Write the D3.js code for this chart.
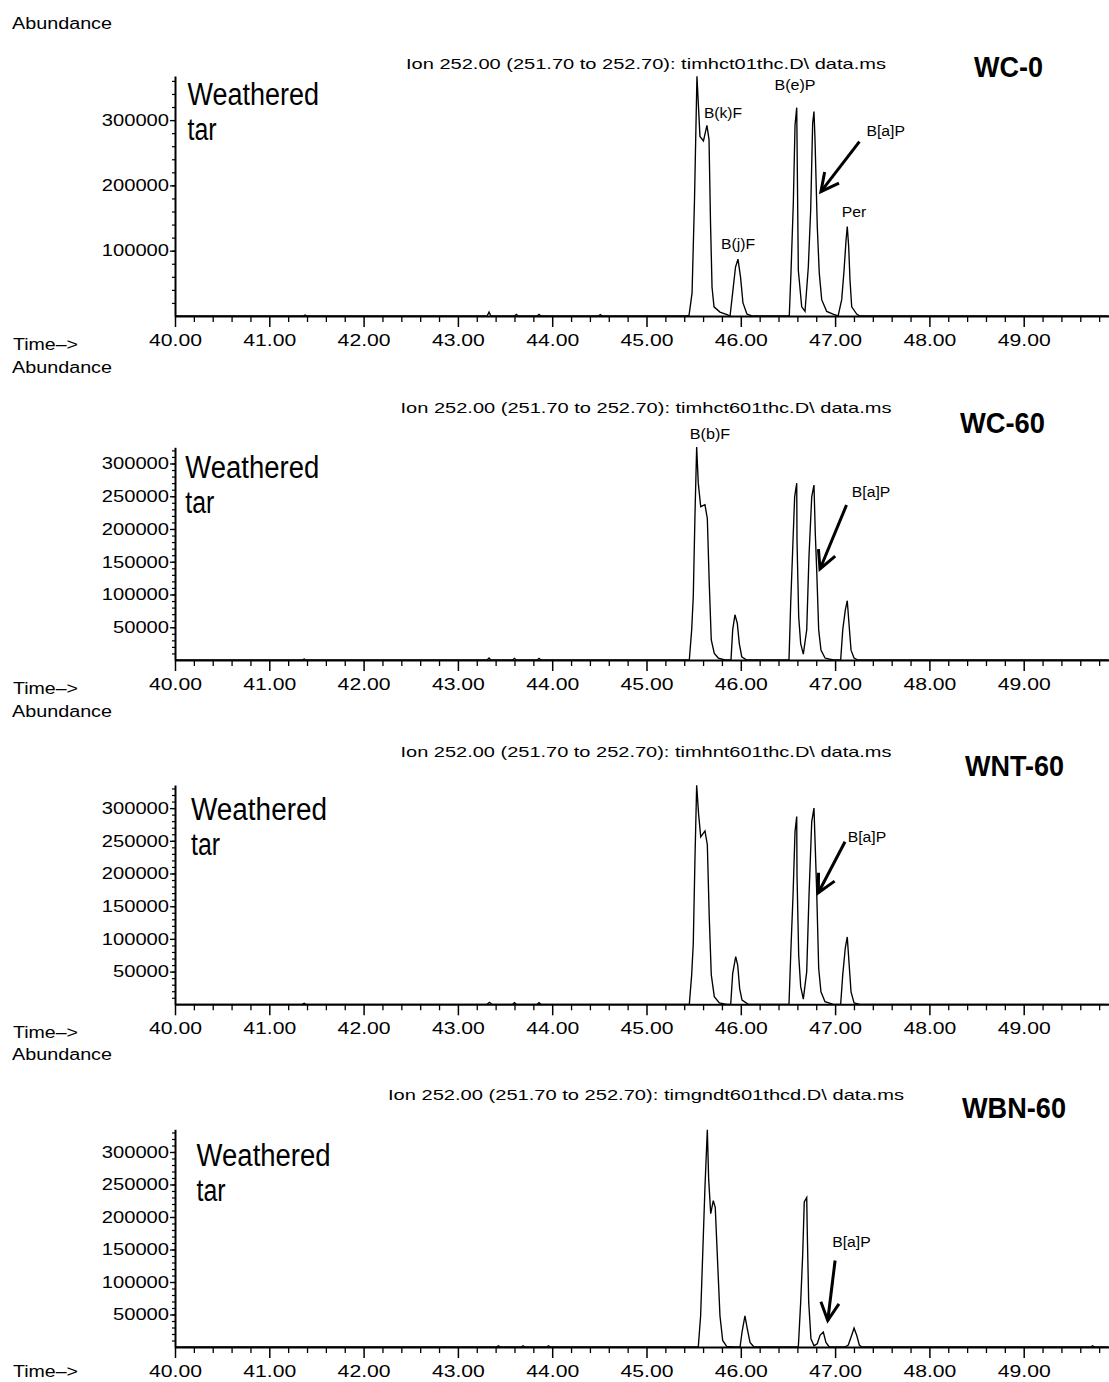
<!DOCTYPE html>
<html>
<head>
<meta charset="utf-8">
<script src="https://cdn.jsdelivr.net/npm/d3@7"></script>
<style>
  html, body { margin: 0; padding: 0; background: #fff; }
  svg { display: block; }
</style>
</head>
<body>
<svg id="chart" width="1109" height="1382"></svg>
<script>
// ---------------- DATA ----------------
const sampleNames = ["WC-0", "WC-60", "WNT-60", "WBN-60"];
const dataFiles = ["timhct01thc.D\\ data.ms", "timhct601thc.D\\ data.ms", "timhnt601thc.D\\ data.ms", "timgndt601thcd.D\\ data.ms"];
const ionLabel = "Ion 252.00 (251.70 to 252.70): ";
const xTickValues = [40, 41, 42, 43, 44, 45, 46, 47, 48, 49];
const xTickLabels = ["40.00", "41.00", "42.00", "43.00", "44.00", "45.00", "46.00", "47.00", "48.00", "49.00"];
const yTicksWC0 = [100000, 200000, 300000];
const yTickLabelsWC0 = ["100000", "200000", "300000"];
const yTicks60 = [50000, 100000, 150000, 200000, 250000, 300000];
const yTickLabels60 = ["50000", "100000", "150000", "200000", "250000", "300000"];

// chromatogram traces: [retention time (min), abundance]
const wc0Trace = [
  [40.00,0],[41.36,0],[41.38,1500],[41.40,0],
  [43.31,0],[43.33,6000],[43.35,0],
  [43.60,0],[43.62,2500],[43.64,0],
  [43.84,0],[43.86,2500],[43.88,0],
  [44.49,0],[44.51,2000],[44.53,0],
  [45.419,0],[45.451,1000],[45.483,35000],[45.509,178000],[45.535,367000],[45.567,275000],[45.604,268000],[45.641,292000],[45.663,270000],[45.679,142000],[45.695,44000],[45.716,14000],[45.779,6000],[45.854,2000],[45.886,0],
  [45.917,40000],[45.944,75000],[45.970,87000],[45.997,60000],[46.023,20000],[46.065,3000],[46.118,0],
  [46.514,0],[46.532,66000],[46.557,173000],[46.575,292000],[46.593,319000],[46.599,228000],[46.610,70000],[46.646,14000],[46.681,7000],
  [46.716,75000],[46.741,162000],[46.762,295000],[46.776,313000],[46.787,270000],[46.811,137000],[46.832,66000],[46.858,25000],[46.911,7000],[46.978,3000],[47.032,0],
  [47.070,25000],[47.095,70000],[47.116,116000],[47.129,137000],[47.144,106000],[47.158,55000],[47.176,14000],[47.229,3000],[47.264,0],
  [49.90,0]
];
const wc60Trace = [
  [40.00,0],[41.35,0],[41.37,1500],[41.39,0],
  [43.31,0],[43.33,3000],[43.35,0],
  [43.58,0],[43.60,2500],[43.62,0],
  [43.84,0],[43.86,2500],[43.88,0],
  [45.454,0],[45.479,46000],[45.496,97000],[45.514,221000],[45.532,325000],[45.549,270000],[45.575,234000],[45.620,237000],[45.645,216000],[45.666,115000],[45.687,30500],[45.719,10000],[45.762,3000],[45.833,0],
  [45.896,0],[45.914,46000],[45.938,69000],[45.963,56000],[45.984,25000],[46.010,5000],[46.063,0],
  [46.511,0],[46.529,86000],[46.550,168000],[46.571,249000],[46.593,270000],[46.596,183000],[46.614,66000],[46.635,25000],[46.663,9000],
  [46.699,46000],[46.723,158000],[46.752,249000],[46.776,267000],[46.790,193000],[46.805,137000],[46.826,46000],[46.850,15000],[46.893,3000],[46.981,0],
  [47.059,0],[47.081,46000],[47.108,76000],[47.129,90500],[47.147,56000],[47.169,15000],[47.201,3000],[47.243,0],
  [49.90,0]
];
const wnt60Trace = [
  [40.00,0],[41.35,0],[41.37,1500],[41.39,0],
  [43.31,0],[43.334,3000],[43.36,0],
  [43.58,0],[43.60,2500],[43.62,0],
  [43.84,0],[43.86,2500],[43.88,0],
  [45.454,0],[45.479,45000],[45.496,93000],[45.514,223000],[45.532,335000],[45.553,290000],[45.575,256000],[45.620,265000],[45.645,244000],[45.666,131000],[45.687,45000],[45.719,11600],[45.772,2000],[45.850,0],
  [45.893,0],[45.914,47000],[45.946,73000],[45.967,60000],[45.988,24000],[46.013,6500],[46.080,0],
  [46.511,0],[46.532,86000],[46.554,167000],[46.575,264000],[46.593,287000],[46.596,198000],[46.614,75000],[46.635,27000],[46.663,8000],
  [46.699,50000],[46.723,165000],[46.752,279000],[46.776,300000],[46.790,238000],[46.805,172000],[46.826,55000],[46.850,19000],[46.893,4000],[46.981,0],
  [47.059,0],[47.081,45000],[47.108,86000],[47.129,103000],[47.147,65000],[47.169,19000],[47.201,2000],[47.264,0],
  [49.90,0]
];
const wbn60Trace = [
  [40.00,0],[43.41,0],[43.43,2000],[43.45,0],
  [43.67,0],[43.69,2000],[43.71,0],
  [43.94,0],[43.96,2000],[43.98,0],
  [45.549,0],[45.574,48000],[45.595,138000],[45.620,246000],[45.645,334000],[45.659,259000],[45.681,205000],[45.708,225000],[45.729,215000],[45.751,141000],[45.779,48000],[45.808,10000],[45.850,1000],[45.920,0],
  [45.992,0],[46.013,23000],[46.044,48000],[46.069,28000],[46.098,7000],[46.140,0],
  [46.610,0],[46.635,69000],[46.656,141000],[46.673,223000],[46.699,230000],[46.705,177000],[46.720,69000],[46.744,12600],[46.776,2000],
  [46.811,5000],[46.840,18000],[46.875,23000],[46.903,7000],[46.938,0],
  [47.105,0],[47.140,3000],[47.176,18000],[47.201,29000],[47.229,18000],[47.257,3000],[47.282,0],
  [49.71,0],[49.73,2000],[49.75,0],[49.90,0]
];

// peak labels: [text, retention time, abundance]
const peakLabelsWC0 = [["B(k)F",45.811,303000],["B(j)F",45.970,102600],["B(e)P",46.575,346000],["B[a]P",47.536,275700],["Per",47.200,151600]];
const peakLabelsWC60 = [["B(b)F",45.673,337400],["B[a]P",47.381,248900]];
const peakLabelsWNT60 = [["B[a]P",47.338,248200]];
const peakLabelsWBN60 = [["B[a]P",47.174,153800]];
// B[a]P arrows: [from time, from abundance, to time, to abundance]
const arrowWC0 = [47.258,266900,46.850,190400];
const arrowWC60 = [47.121,236600,46.840,138900];
const arrowWNT60 = [47.105,248600,46.822,170600];
const arrowWBN60 = [47.000,133100,46.922,40800];

// ---------------- LAYOUT ----------------
const FONT = "'Liberation Sans', Arial, Helvetica, sans-serif";
const labelWidths = {"B(k)F":38,"B(j)F":34,"B(e)P":41,"B[a]P":38.5,"Per":24.5,"B(b)F":40.5};
const panels = [
  {name: sampleNames[0], file: dataFiles[0], trace: wc0Trace, labels: peakLabelsWC0, arrow: arrowWC0,
   baseY: 316, topY: 76, yMax: 367500, yTicks: yTicksWC0, yTickLabels: yTickLabelsWC0, minorStep: 20000,
   titleW: 480, nameX: 1008.6, nameY: 77, nameW: 69, wx: 187.5, wy: 105, ww: 131.5},
  {name: sampleNames[1], file: dataFiles[1], trace: wc60Trace, labels: peakLabelsWC60, arrow: arrowWC60,
   baseY: 660, topY: 447.3, yMax: 324700, yTicks: yTicks60, yTickLabels: yTickLabels60, minorStep: 10000,
   titleW: 491, nameX: 1002.5, nameY: 432.5, nameW: 85, wx: 185.3, wy: 478, ww: 134},
  {name: sampleNames[2], file: dataFiles[2], trace: wnt60Trace, labels: peakLabelsWNT60, arrow: arrowWNT60,
   baseY: 1004.3, topY: 785, yMax: 335300, yTicks: yTicks60, yTickLabels: yTickLabels60, minorStep: 10000,
   titleW: 491, nameX: 1014.5, nameY: 776, nameW: 99, wx: 191, wy: 820, ww: 136},
  {name: sampleNames[3], file: dataFiles[3], trace: wbn60Trace, labels: peakLabelsWBN60, arrow: arrowWBN60,
   baseY: 1347, topY: 1129.3, yMax: 334900, yTicks: yTicks60, yTickLabels: yTickLabels60, minorStep: 10000,
   titleW: 516, nameX: 1014, nameY: 1118, nameW: 104, wx: 196.6, wy: 1166, ww: 134}
];

const svg = d3.select("#chart");
svg.append("rect").attr("width", 1109).attr("height", 1382).attr("fill", "#fff");

const x = d3.scaleLinear().domain([40, 49.9]).range([175, 175 + 9.9 * 94.3]);
const xMinor = d3.range(200, 250).map(d => d / 5).filter(d => Math.abs(d - Math.round(d)) > 1e-6);

function fitText(sel, w) {
  return sel.attr("textLength", w).attr("lengthAdjust", "spacingAndGlyphs");
}

panels.forEach(p => {
  const g = svg.append("g");
  const y = d3.scaleLinear().domain([0, p.yMax]).range([p.baseY, p.topY]);

  // x axis minor ticks
  g.append("g").attr("transform", `translate(0,${p.baseY})`)
    .call(d3.axisBottom(x).tickValues(xMinor).tickSize(6).tickSizeOuter(0).tickFormat(""))
    .call(a => a.select(".domain").remove())
    .call(a => a.selectAll("line").attr("stroke", "#000").attr("stroke-width", 1.3));
  // x axis major
  const xa = g.append("g").attr("transform", `translate(0,${p.baseY})`)
    .call(d3.axisBottom(x).tickValues(xTickValues).tickSize(11).tickSizeOuter(0)
      .tickFormat((d, i) => xTickLabels[i]));
  xa.select(".domain").attr("stroke", "#000").attr("stroke-width", 2);
  xa.selectAll("line").attr("stroke", "#000").attr("stroke-width", 1.5);
  xa.selectAll("text").attr("y", 30).attr("dy", null)
    .attr("font-family", FONT).attr("font-size", 16).attr("fill", "#000")
    .attr("textLength", 53).attr("lengthAdjust", "spacingAndGlyphs");

  // y axis minor
  g.append("g").attr("transform", `translate(175,0)`)
    .call(d3.axisLeft(y).tickValues(d3.range(p.minorStep, p.yMax, p.minorStep)).tickSize(3).tickSizeOuter(0).tickFormat(""))
    .call(a => a.select(".domain").remove())
    .call(a => a.selectAll("line").attr("stroke", "#000").attr("stroke-width", 1.2));
  // y axis major
  const ya = g.append("g").attr("transform", `translate(175,0)`)
    .call(d3.axisLeft(y).tickValues(p.yTicks).tickSize(5).tickSizeOuter(0).tickPadding(1)
      .tickFormat((d, i) => p.yTickLabels[i]));
  ya.select(".domain").attr("stroke", "#000").attr("stroke-width", 2);
  ya.selectAll("line").attr("stroke", "#000").attr("stroke-width", 1.3);
  ya.selectAll("text").attr("font-family", FONT).attr("font-size", 16).attr("fill", "#000")
    .attr("dy", "0.33em")
    .each(function(d, i) { d3.select(this).attr("textLength", p.yTickLabels[i].length * 11.2).attr("lengthAdjust", "spacingAndGlyphs"); });

  // trace
  g.append("path").datum(p.trace)
    .attr("fill", "none").attr("stroke", "#000").attr("stroke-width", 1.35).attr("stroke-linejoin", "miter")
    .attr("d", d3.line().x(d => x(d[0])).y(d => y(d[1])));

  // Abundance / Time-> labels
  fitText(g.append("text").attr("x", 12).attr("y", p.baseY - 287)
    .attr("font-family", FONT).attr("font-size", 16).text("Abundance"), 100);
  fitText(g.append("text").attr("x", 13).attr("y", Math.min(p.baseY + 34, 1377))
    .attr("font-family", FONT).attr("font-size", 16).text("Time\u2013>"), 65);

  // Ion title
  fitText(g.append("text").attr("x", 646).attr("y", p.baseY - 247.5).attr("text-anchor", "middle")
    .attr("font-family", FONT).attr("font-size", 15).text(ionLabel + p.file), p.titleW);

  // sample name
  fitText(g.append("text").attr("x", p.nameX).attr("y", p.nameY).attr("text-anchor", "middle")
    .attr("font-family", FONT).attr("font-size", 29).attr("font-weight", "bold").text(p.name), p.nameW);

  // Weathered tar
  fitText(g.append("text").attr("x", p.wx).attr("y", p.wy)
    .attr("font-family", FONT).attr("font-size", 31).text("Weathered"), p.ww);
  fitText(g.append("text").attr("x", p.wx).attr("y", p.wy + 35)
    .attr("font-family", FONT).attr("font-size", 31).text("tar"), 29);

  // peak labels
  p.labels.forEach(l => {
    fitText(g.append("text").attr("x", x(l[1])).attr("y", y(l[2])).attr("text-anchor", "middle")
      .attr("font-family", FONT).attr("font-size", 14).text(l[0]), labelWidths[l[0]]);
  });

  // arrow
  const a = p.arrow;
  const x1 = x(a[0]), y1 = y(a[1]), x2 = x(a[2]), y2 = y(a[3]);
  const ang = Math.atan2(y1 - y2, x1 - x2);
  const L = 20, spread = 27 * Math.PI / 180;
  g.append("line").attr("x1", x1).attr("y1", y1).attr("x2", x2).attr("y2", y2)
    .attr("stroke", "#000").attr("stroke-width", 3);
  g.append("path")
    .attr("d", `M${x2 + L * Math.cos(ang + spread)},${y2 + L * Math.sin(ang + spread)}L${x2},${y2}L${x2 + L * Math.cos(ang - spread)},${y2 + L * Math.sin(ang - spread)}`)
    .attr("fill", "none").attr("stroke", "#000").attr("stroke-width", 3).attr("stroke-linejoin", "miter");
});
</script>
</body>
</html>
